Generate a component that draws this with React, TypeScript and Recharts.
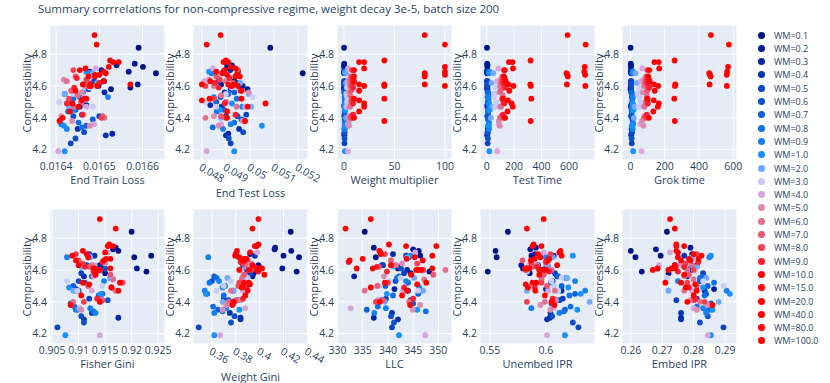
import { ScatterChart, Scatter, XAxis, YAxis, CartesianGrid } from 'recharts'

const wmLabels = ['0.1', '0.2', '0.3', '0.4', '0.5', '0.6', '0.7', '0.8', '0.9', '1.0', '2.0', '3.0', '4.0', '5.0', '6.0', '7.0', '8.0', '9.0', '10.0', '15.0', '20.0', '40.0', '80.0', '100.0']
const wmValues = [0.1, 0.2, 0.3, 0.4, 0.5, 0.6, 0.7, 0.8, 0.9, 1, 2, 3, 4, 5, 6, 7, 8, 9, 10, 15, 20, 40, 80, 100]
const wmColors = ['#00128a', '#001a95', '#0325a3', '#0533b0', '#0a42c0', '#0d50cc', '#0f60d8', '#1070e4', '#1580ef', '#1a90ff', '#70aaff', '#c9ccf5', '#d6a6dc', '#dc8cb0', '#e07090', '#e85872', '#f04050', '#f82030', '#ff0000', '#ff0000', '#ff0000', '#ff0000', '#ff0000', '#ff0000']

// one row per WM level, five runs each
const compressibility = [
  [4.84, 4.72, 4.69, 4.68, 4.59], [4.74, 4.73, 4.63, 4.61, 4.58], [4.70, 4.60, 4.56, 4.48, 4.30], [4.69, 4.62, 4.47, 4.33, 4.29],
  [4.63, 4.58, 4.42, 4.41, 4.24], [4.61, 4.53, 4.41, 4.31, 4.27], [4.56, 4.50, 4.45, 4.39, 4.35], [4.55, 4.52, 4.44, 4.37, 4.34],
  [4.68, 4.53, 4.47, 4.36, 4.33], [4.69, 4.49, 4.45, 4.35, 4.19], [4.68, 4.62, 4.55, 4.47, 4.40], [4.59, 4.55, 4.53, 4.50, 4.47],
  [4.71, 4.63, 4.47, 4.36, 4.19], [4.64, 4.56, 4.41, 4.38, 4.35], [4.63, 4.60, 4.54, 4.47, 4.40], [4.66, 4.62, 4.57, 4.50, 4.41],
  [4.70, 4.64, 4.60, 4.52, 4.40], [4.65, 4.62, 4.59, 4.49, 4.42], [4.70, 4.66, 4.63, 4.52, 4.40], [4.75, 4.61, 4.57, 4.51, 4.44],
  [4.75, 4.71, 4.60, 4.49, 4.47], [4.76, 4.61, 4.60, 4.52, 4.38], [4.92, 4.68, 4.67, 4.66, 4.61], [4.86, 4.72, 4.69, 4.67, 4.60],
]

const endTrainLoss = [
  [0.016591, 0.016601, 0.016568, 0.016631, 0.016572], [0.016582, 0.016540, 0.016511, 0.016589, 0.016527], [0.016505, 0.016498, 0.016512, 0.016470, 0.016530], [0.016478, 0.016502, 0.016455, 0.016450, 0.016515],
  [0.016488, 0.016475, 0.016460, 0.016500, 0.016434], [0.016470, 0.016455, 0.016440, 0.016465, 0.016445], [0.016462, 0.016430, 0.016445, 0.016485, 0.016470], [0.016420, 0.016440, 0.016428, 0.016452, 0.016460],
  [0.016478, 0.016520, 0.016435, 0.016412, 0.016425], [0.016470, 0.016430, 0.016440, 0.016418, 0.016420], [0.016485, 0.016495, 0.016420, 0.016430, 0.016415], [0.016478, 0.016440, 0.016465, 0.016407, 0.016485],
  [0.016492, 0.016423, 0.016470, 0.016488, 0.016405], [0.016418, 0.016460, 0.016412, 0.016437, 0.016478], [0.016425, 0.016468, 0.016450, 0.016442, 0.016512], [0.016445, 0.016475, 0.016435, 0.016458, 0.016508],
  [0.016440, 0.016470, 0.016480, 0.016430, 0.016505], [0.016448, 0.016500, 0.016442, 0.016425, 0.016462], [0.016455, 0.016490, 0.016510, 0.016465, 0.016415], [0.016532, 0.016480, 0.016445, 0.016460, 0.016432],
  [0.016545, 0.016468, 0.016480, 0.016438, 0.016452], [0.016525, 0.016572, 0.016495, 0.016470, 0.016408], [0.016489, 0.016515, 0.016500, 0.016475, 0.016462], [0.016494, 0.016522, 0.016510, 0.016490, 0.016478],
]

const endTestLoss = [
  [0.05085, 0.04905, 0.04950, 0.05220, 0.04960], [0.04905, 0.04925, 0.04935, 0.04880, 0.04990], [0.04918, 0.04970, 0.04895, 0.04835, 0.04910], [0.04890, 0.04945, 0.04882, 0.04955, 0.04900],
  [0.04870, 0.04920, 0.04985, 0.04900, 0.04920], [0.04958, 0.04878, 0.04948, 0.04972, 0.04912], [0.04935, 0.04860, 0.04892, 0.04965, 0.04880], [0.04910, 0.04945, 0.04862, 0.04935, 0.04845],
  [0.04840, 0.04850, 0.04968, 0.04920, 0.04888], [0.04830, 0.04925, 0.04875, 0.05050, 0.04935], [0.04900, 0.04960, 0.04995, 0.05005, 0.04880], [0.04925, 0.04900, 0.05010, 0.04815, 0.04860],
  [0.04845, 0.04810, 0.04980, 0.04880, 0.04820], [0.04830, 0.04995, 0.04850, 0.04970, 0.04870], [0.04900, 0.04850, 0.04880, 0.04945, 0.04815], [0.04860, 0.04930, 0.04960, 0.04900, 0.04880],
  [0.04950, 0.04875, 0.04815, 0.04850, 0.04900], [0.04915, 0.04855, 0.04870, 0.04895, 0.04940], [0.04895, 0.04940, 0.04835, 0.04965, 0.04905], [0.04890, 0.04800, 0.04965, 0.04800, 0.04905],
  [0.04910, 0.04940, 0.04920, 0.05065, 0.04990], [0.04900, 0.04910, 0.04950, 0.04832, 0.04980], [0.04878, 0.04885, 0.04945, 0.04958, 0.04935], [0.04820, 0.04920, 0.04860, 0.04905, 0.04925],
]

const testTime = [
  [2, 4, 1, 3, 5], [3, 6, 2, 5, 4], [5, 3, 7, 4, 6], [4, 7, 5, 8, 3],
  [6, 5, 9, 4, 7], [8, 6, 10, 7, 9], [10, 8, 12, 9, 11], [12, 14, 10, 16, 13],
  [15, 13, 18, 14, 17], [20, 18, 22, 16, 19], [48, 35, 55, 42, 30], [65, 58, 52, 70, 62],
  [85, 78, 92, 88, 77], [100, 92, 105, 88, 95], [110, 98, 118, 104, 96], [115, 108, 102, 120, 112],
  [125, 118, 128, 112, 124], [130, 122, 135, 128, 118], [132, 126, 138, 120, 134], [162, 158, 165, 155, 152],
  [188, 192, 195, 182, 190], [320, 318, 322, 325, 321], [590, 582, 588, 592, 585], [722, 715, 712, 718, 720],
]

const grokTime = [
  [1, 3, 2, 4, 2], [2, 4, 3, 5, 1], [3, 2, 5, 4, 6], [4, 6, 3, 7, 5],
  [5, 4, 7, 6, 8], [6, 8, 5, 9, 7], [8, 10, 7, 12, 9], [10, 12, 9, 14, 11],
  [12, 14, 10, 16, 13], [15, 14, 18, 12, 16], [30, 38, 45, 25, 20], [50, 42, 55, 60, 48],
  [70, 62, 75, 58, 65], [80, 72, 85, 68, 76], [88, 80, 95, 82, 78], [92, 86, 98, 90, 84],
  [100, 94, 104, 96, 92], [106, 98, 110, 102, 96], [110, 104, 112, 100, 108], [140, 138, 142, 136, 134],
  [165, 168, 162, 166, 160], [258, 262, 260, 256, 259], [470, 460, 465, 468, 462], [575, 570, 565, 562, 563],
]

const fisherGini = [
  [0.9200, 0.9175, 0.9237, 0.9205, 0.9228], [0.9170, 0.9165, 0.9140, 0.9210, 0.9150], [0.9120, 0.9135, 0.9110, 0.9095, 0.9175], [0.9130, 0.9145, 0.9100, 0.9125, 0.9110],
  [0.9115, 0.9105, 0.9120, 0.9140, 0.9060], [0.9150, 0.9100, 0.9155, 0.9105, 0.9110], [0.9125, 0.9090, 0.9145, 0.9085, 0.9095], [0.9160, 0.9112, 0.9138, 0.9092, 0.9128],
  [0.9078, 0.9148, 0.9093, 0.9122, 0.9132], [0.9120, 0.9082, 0.9142, 0.9098, 0.9075], [0.9122, 0.9105, 0.9160, 0.9090, 0.9142], [0.9135, 0.9165, 0.9078, 0.9145, 0.9098],
  [0.9155, 0.9130, 0.9125, 0.9102, 0.9140], [0.9150, 0.9128, 0.9140, 0.9085, 0.9105], [0.9125, 0.9138, 0.9165, 0.9170, 0.9090], [0.9100, 0.9120, 0.9160, 0.9118, 0.9145],
  [0.9095, 0.9108, 0.9135, 0.9183, 0.9110], [0.9145, 0.9112, 0.9128, 0.9162, 0.9135], [0.9115, 0.9148, 0.9100, 0.9108, 0.9140], [0.9165, 0.9160, 0.9132, 0.9120, 0.9105],
  [0.9155, 0.9150, 0.9140, 0.9162, 0.9175], [0.9158, 0.9130, 0.9140, 0.9178, 0.9085], [0.9140, 0.9118, 0.9152, 0.9095, 0.9128], [0.9170, 0.9108, 0.9088, 0.9160, 0.9135],
]

const weightGini = [
  [0.4260, 0.4265, 0.4200, 0.4330, 0.4310], [0.4130, 0.4125, 0.3990, 0.4190, 0.3950], [0.3920, 0.3880, 0.3940, 0.3870, 0.3840], [0.3960, 0.3920, 0.3780, 0.3750, 0.3840],
  [0.3860, 0.3920, 0.3700, 0.3820, 0.3490], [0.3900, 0.3600, 0.3740, 0.3790, 0.3760], [0.3620, 0.3710, 0.3560, 0.3780, 0.3650], [0.3640, 0.3580, 0.3700, 0.3610, 0.3690],
  [0.3570, 0.3660, 0.3540, 0.3720, 0.3620], [0.3810, 0.3690, 0.3550, 0.3830, 0.3620], [0.3820, 0.3880, 0.3730, 0.3780, 0.3690], [0.3850, 0.3900, 0.3760, 0.3700, 0.3640],
  [0.3980, 0.3920, 0.3860, 0.3880, 0.3670], [0.3930, 0.3860, 0.3840, 0.3720, 0.3690], [0.3880, 0.3910, 0.3850, 0.3760, 0.3740], [0.3900, 0.3950, 0.3870, 0.3820, 0.3800],
  [0.3800, 0.3860, 0.3930, 0.3830, 0.3790], [0.3840, 0.3960, 0.3990, 0.3890, 0.3860], [0.3800, 0.3870, 0.3940, 0.3870, 0.3780], [0.3960, 0.4010, 0.4040, 0.3920, 0.3880],
  [0.3975, 0.3920, 0.3980, 0.3850, 0.3900], [0.3990, 0.4020, 0.3830, 0.3910, 0.3770], [0.3990, 0.3830, 0.3890, 0.3860, 0.4000], [0.3940, 0.3810, 0.3795, 0.3870, 0.3910],
]

const llc = [
  [335.4, 346.1, 346.4, 337.6, 348.2], [337.2, 345.0, 339.0, 342.0, 344.5], [341.0, 343.8, 333.3, 341.3, 337.2], [343.6, 342.3, 344.0, 340.8, 342.0],
  [338.8, 343.2, 339.6, 344.5, 340.8], [342.6, 341.5, 338.6, 340.6, 341.2], [342.2, 339.5, 346.0, 345.0, 335.8], [341.8, 344.0, 341.0, 338.0, 347.5],
  [344.2, 343.6, 346.5, 339.6, 337.3], [344.5, 346.2, 339.8, 345.8, 342.2], [343.8, 341.0, 345.2, 347.0, 339.4], [346.8, 342.5, 340.2, 338.3, 346.0],
  [345.4, 341.2, 343.0, 332.6, 347.4], [342.8, 339.2, 338.0, 346.4, 344.9], [341.6, 351.4, 347.2, 335.4, 344.2], [340.6, 338.2, 349.0, 337.9, 339.0],
  [339.4, 345.8, 347.0, 340.0, 337.6], [332.2, 337.8, 339.8, 343.2, 345.0], [338.6, 332.4, 340.6, 347.6, 338.4], [343.6, 333.8, 344.6, 345.8, 342.8],
  [349.6, 338.5, 345.6, 336.6, 343.8], [340.2, 337.0, 346.0, 339.4, 344.4], [336.6, 345.3, 335.0, 346.9, 348.8], [331.6, 338.3, 348.8, 343.7, 346.6],
]

const unembedIpr = [
  [0.5660, 0.5550, 0.5870, 0.5560, 0.5480], [0.5910, 0.5860, 0.5780, 0.5795, 0.5855], [0.5900, 0.5960, 0.6100, 0.6000, 0.6035], [0.6070, 0.6020, 0.6140, 0.6040, 0.6010],
  [0.5930, 0.6080, 0.6150, 0.6120, 0.6290], [0.5995, 0.6060, 0.6090, 0.6055, 0.6240], [0.6110, 0.6140, 0.6260, 0.6050, 0.6170], [0.6180, 0.6045, 0.6210, 0.6220, 0.6160],
  [0.6000, 0.6260, 0.6350, 0.5870, 0.6120], [0.6240, 0.6200, 0.6310, 0.6280, 0.6170], [0.6060, 0.6020, 0.6190, 0.5830, 0.6390], [0.5830, 0.6140, 0.6050, 0.6070, 0.6110],
  [0.5980, 0.5850, 0.6020, 0.6070, 0.6010], [0.6000, 0.5960, 0.6090, 0.5950, 0.6040], [0.5920, 0.6050, 0.5960, 0.6080, 0.5990], [0.5790, 0.5880, 0.5980, 0.6010, 0.6060],
  [0.6040, 0.5870, 0.5820, 0.5960, 0.5830], [0.6000, 0.5920, 0.6030, 0.5900, 0.6060], [0.5930, 0.6020, 0.6100, 0.5880, 0.6050], [0.5960, 0.5830, 0.5940, 0.5820, 0.5990],
  [0.5880, 0.6120, 0.5975, 0.5840, 0.5905], [0.5890, 0.5850, 0.6005, 0.5915, 0.6075], [0.5980, 0.5950, 0.6030, 0.5865, 0.5810], [0.5830, 0.6130, 0.6140, 0.5900, 0.5940],
]

const embedIpr = [
  [0.2715, 0.2600, 0.2695, 0.2615, 0.2635], [0.2790, 0.2680, 0.2740, 0.2685, 0.2720], [0.2795, 0.2790, 0.2780, 0.2865, 0.2760], [0.2770, 0.2770, 0.2835, 0.2760, 0.2760],
  [0.2810, 0.2830, 0.2810, 0.2745, 0.2895], [0.2790, 0.2820, 0.2800, 0.2845, 0.2820], [0.2830, 0.2845, 0.2840, 0.2855, 0.2850], [0.2820, 0.2865, 0.2835, 0.2810, 0.2840],
  [0.2850, 0.2750, 0.2905, 0.2830, 0.2840], [0.2855, 0.2830, 0.2915, 0.2860, 0.2855], [0.2795, 0.2810, 0.2840, 0.2720, 0.2880], [0.2805, 0.2715, 0.2830, 0.2895, 0.2795],
  [0.2725, 0.2690, 0.2795, 0.2800, 0.2845], [0.2760, 0.2770, 0.2790, 0.2845, 0.2810], [0.2795, 0.2780, 0.2800, 0.2770, 0.2820], [0.2790, 0.2745, 0.2785, 0.2810, 0.2800],
  [0.2810, 0.2775, 0.2800, 0.2780, 0.2835], [0.2815, 0.2770, 0.2750, 0.2785, 0.2805], [0.2800, 0.2790, 0.2740, 0.2760, 0.2780], [0.2745, 0.2740, 0.2770, 0.2805, 0.2800],
  [0.2770, 0.2750, 0.2720, 0.2775, 0.2810], [0.2745, 0.2730, 0.2670, 0.2710, 0.2860], [0.2725, 0.2750, 0.2815, 0.2760, 0.2685], [0.2740, 0.2745, 0.2825, 0.2785, 0.2720],
]

const weightMultiplier = wmValues.map((v) => [v, v, v, v, v])

const yTicks = [4.2, 4.4, 4.6, 4.8]
const TEXT = '#2a3f5f'
const PLOT_W = 115
const PLOT_H = 135
const colLefts = [50, 193, 337, 480, 622]
const rowTops = [25, 209]

interface PanelProps {
  title: string
  xs: number[][]
  domain: [number, number]
  ticks: number[]
  col: number
  row: number
  angled?: boolean
}

const dot = (p: any) => <circle cx={p.cx} cy={p.cy} r={2.9} fill={p.fill} />

function Panel({ title, xs, domain, ticks, col, row, angled }: PanelProps) {
  const left = colLefts[col]
  const top = rowTops[row]
  const titleY = top + PLOT_H + (angled ? 33 : 20)
  return (
    <>
      <div style={{ position: 'absolute', left: left - 40, top: top - 5 }}>
        <ScatterChart width={160} height={185} margin={{ top: 5, right: 5, bottom: 0, left: 0 }}>
          <CartesianGrid fill="#E5ECF6" fillOpacity={1} stroke="#ffffff" strokeWidth={1} />
          <XAxis
            type="number"
            dataKey="x"
            domain={domain}
            ticks={ticks}
            interval={0}
            allowDataOverflow
            axisLine={false}
            tickLine={false}
            tickSize={3}
            tickMargin={0}
            height={45}
            tickFormatter={(v) => String(v)}
            tick={angled
              ? { fill: TEXT, fontSize: 10.5, angle: 30, textAnchor: 'start' }
              : { fill: TEXT, fontSize: 10.5 }}
          />
          <YAxis
            type="number"
            dataKey="y"
            domain={[4.135, 4.983]}
            ticks={yTicks}
            interval={0}
            allowDataOverflow
            axisLine={false}
            tickLine={false}
            tickSize={3}
            tickMargin={0}
            width={40}
            tickFormatter={(v) => v.toFixed(1)}
            tick={{ fill: TEXT, fontSize: 10.5 }}
          />
          {wmLabels.map((lab, g) => (
            <Scatter
              key={lab}
              name={`WM=${lab}`}
              data={compressibility[g].map((y, i) => ({ x: xs[g][i], y }))}
              fill={wmColors[g]}
              shape={dot}
              isAnimationActive={false}
            />
          ))}
        </ScatterChart>
      </div>
      <div style={{ position: 'absolute', left, top: titleY - 6, width: PLOT_W, textAlign: 'center', fontSize: 11, lineHeight: '12px', color: TEXT, whiteSpace: 'nowrap' }}>
        {title}
      </div>
      <div style={{ position: 'absolute', left: left - 23 - 50, top: top + PLOT_H / 2 - 8, width: 100, textAlign: 'center', fontSize: 11, lineHeight: '16px', color: TEXT, transform: 'rotate(-90deg)' }}>
        Compressibility
      </div>
    </>
  )
}

export default function App() {
  return (
    <div style={{ position: 'absolute', left: 0, top: 0, width: 830, height: 383, background: '#fff', fontFamily: '"Open Sans", verdana, arial, sans-serif', overflow: 'hidden' }}>
      <style>{'.recharts-surface { overflow: visible; }'}</style>
      <div style={{ position: 'absolute', left: 38, top: 1, fontSize: 11.5, lineHeight: '15px', color: TEXT, whiteSpace: 'nowrap' }}>
        Summary corrrelations for non-compressive regime, weight decay 3e-5, batch size 200
      </div>
      <Panel title="End Train Loss" xs={endTrainLoss} domain={[0.016386, 0.016652]} ticks={[0.0164, 0.0165, 0.0166]} col={0} row={0} />
      <Panel title="End Test Loss" xs={endTestLoss} domain={[0.04763, 0.05242]} ticks={[0.048, 0.049, 0.05, 0.051, 0.052]} col={1} row={0} angled />
      <Panel title="Weight multiplier" xs={weightMultiplier} domain={[-6.9, 107]} ticks={[0, 50, 100]} col={2} row={0} />
      <Panel title="Test Time" xs={testTime} domain={[-49, 790]} ticks={[0, 200, 400, 600]} col={3} row={0} />
      <Panel title="Grok time" xs={grokTime} domain={[-49, 622]} ticks={[0, 200, 400, 600]} col={4} row={0} />
      <Panel title="Fisher Gini" xs={fisherGini} domain={[0.9046, 0.9263]} ticks={[0.905, 0.91, 0.915, 0.92, 0.925]} col={0} row={1} />
      <Panel title="Weight Gini" xs={weightGini} domain={[0.3442, 0.4405]} ticks={[0.36, 0.38, 0.4, 0.42, 0.44]} col={1} row={1} angled />
      <Panel title="LLC" xs={llc} domain={[329.9, 352.7]} ticks={[330, 335, 340, 345, 350]} col={2} row={1} />
      <Panel title="Unembed IPR" xs={unembedIpr} domain={[0.5411, 0.6438]} ticks={[0.55, 0.6]} col={3} row={1} />
      <Panel title="Embed IPR" xs={embedIpr} domain={[0.2572, 0.2938]} ticks={[0.26, 0.27, 0.28, 0.29]} col={4} row={1} />
      {wmLabels.map((lab, g) => (
        <div key={lab} style={{ position: 'absolute', left: 758, top: 35 + g * 13.3 - 7, height: 14, display: 'flex', alignItems: 'center', fontSize: 9, color: TEXT, whiteSpace: 'nowrap' }}>
          <span style={{ display: 'inline-block', width: 7, height: 7, borderRadius: '50%', background: wmColors[g], marginRight: 9 }} />
          WM={lab}
        </div>
      ))}
    </div>
  )
}
